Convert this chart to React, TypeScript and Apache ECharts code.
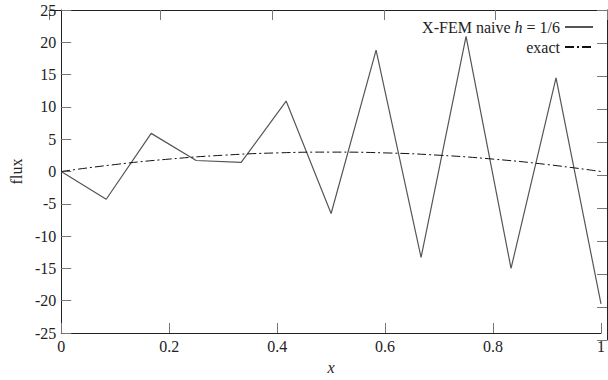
import React, { useEffect, useRef } from "react";
import * as echarts from "echarts";

const xNodes = [0, 1 / 12, 2 / 12, 3 / 12, 4 / 12, 5 / 12, 6 / 12, 7 / 12, 8 / 12, 9 / 12, 10 / 12, 11 / 12, 1];
const naiveValues = [0, -4.3, 5.9, 1.7, 1.4, 10.9, -6.5, 18.8, -13.3, 20.9, -15.0, 14.5, -20.5];
const exactX = [0, 0.1, 0.2, 0.3, 0.4, 0.5, 0.6, 0.7, 0.8, 0.9, 1];
const exactValues = [0, 1.08, 1.92, 2.52, 2.88, 3.0, 2.88, 2.52, 1.92, 1.08, 0];
const naiveName = "X-FEM naive h = 1/6";
const exactName = "exact";

const FONT = "Liberation Serif";
const GRID = { left: 49, right: 1, top: 10, bottom: 40, containLabel: false };

export default function App() {
  const ref = useRef<HTMLDivElement>(null);
  useEffect(() => {
    if (!ref.current) return;
    const chart = echarts.init(ref.current, null, { renderer: "svg" });
    chart.setOption({
      animation: false,
      backgroundColor: "#fff",
      textStyle: { fontFamily: FONT },
      grid: [{ ...GRID }, { ...GRID }],
      xAxis: [
        {
          type: "value", min: 0, max: 1, interval: 0.2, gridIndex: 0,
          axisLine: { show: true, onZero: false, lineStyle: { color: "#222", width: 1 } },
          axisTick: { show: true, inside: true, length: 10, lineStyle: { color: "#777" } },
          splitLine: { show: false },
          axisLabel: { color: "#222", fontFamily: FONT, fontSize: 16, margin: 5 },
          name: "x", nameLocation: "middle", nameGap: 26,
          nameTextStyle: { fontFamily: FONT, fontStyle: "italic", fontSize: 16, color: "#222" },
        },
        {
          type: "value", min: 0, max: 1, interval: 0.2, gridIndex: 1, position: "top",
          axisLine: { show: true, onZero: false, lineStyle: { color: "#222", width: 1 } },
          axisTick: { show: true, inside: true, length: 10, lineStyle: { color: "#777" } },
          splitLine: { show: false },
          axisLabel: { show: false },
        },
      ],
      yAxis: [
        {
          type: "value", min: -25, max: 25, interval: 5, gridIndex: 0,
          axisLine: { show: true, onZero: false, lineStyle: { color: "#222", width: 1 } },
          axisTick: { show: true, inside: true, length: 10, lineStyle: { color: "#777" } },
          splitLine: { show: false },
          axisLabel: { color: "#222", fontFamily: FONT, fontSize: 16, margin: 5 },
          name: "flux", nameLocation: "middle", nameGap: 30, nameRotate: 90,
          nameTextStyle: { fontFamily: FONT, fontSize: 16, color: "#222" },
        },
        {
          type: "value", min: -25, max: 25, interval: 5, gridIndex: 1, position: "right",
          axisLine: { show: true, onZero: false, lineStyle: { color: "#222", width: 1 } },
          axisTick: { show: true, inside: true, length: 10, lineStyle: { color: "#777" } },
          splitLine: { show: false },
          axisLabel: { show: false },
        },
      ],
      legend: [
        {
          data: [naiveName], right: 14, top: 19, align: "right", itemWidth: 28, itemHeight: 10,
          padding: 0,
          itemStyle: { opacity: 0, borderWidth: 0 },
          formatter: () => "{n|X-FEM naive }{i|h}{n| = 1/6}",
          textStyle: {
            fontFamily: FONT, fontSize: 16, color: "#222",
            rich: {
              n: { fontFamily: FONT, fontSize: 16, color: "#222" },
              i: { fontFamily: FONT, fontSize: 16, fontStyle: "italic", color: "#222" },
            },
          },
        },
        {
          data: [exactName], right: 14, top: 39, align: "right", itemWidth: 28, itemHeight: 10,
          padding: 0,
          itemStyle: { opacity: 0, borderWidth: 0 },
          textStyle: { fontFamily: FONT, fontSize: 16, color: "#222" },
        },
      ],
      series: [
        {
          name: naiveName, type: "line", symbol: "none", xAxisIndex: 0, yAxisIndex: 0,
          data: xNodes.map((x, i) => [x, naiveValues[i]]),
          lineStyle: { color: "#555", width: 1.2 },
          itemStyle: { color: "#555" },
        },
        {
          name: exactName, type: "line", symbol: "none", smooth: true, xAxisIndex: 0, yAxisIndex: 0,
          data: exactX.map((x, i) => [x, exactValues[i]]),
          lineStyle: { color: "#111", width: 1, type: [9, 3, 2, 3] },
          itemStyle: { color: "#111" },
        },
      ],
    });
    return () => chart.dispose();
  }, []);
  return <div ref={ref} style={{ width: 608, height: 380, position: "absolute", left: 0, top: 0 }} />;
}
